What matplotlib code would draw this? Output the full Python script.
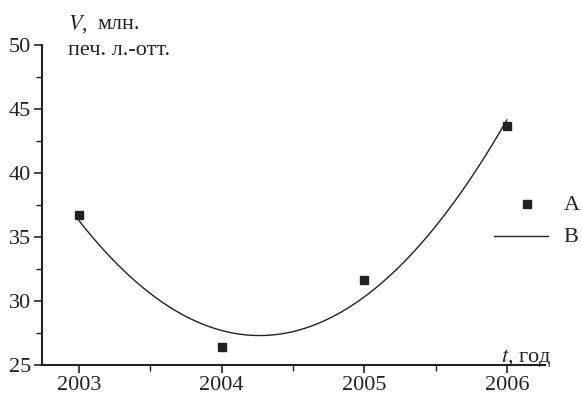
import numpy as np
import matplotlib.pyplot as plt
from matplotlib.ticker import MultipleLocator

plt.rcParams['font.family'] = ['Liberation Serif', 'DejaVu Serif']
plt.rcParams['mathtext.fontset'] = 'stix'

years = [2003, 2004, 2005, 2006]
volume = [36.7, 26.4, 31.6, 43.7]
year_ticks = [2003, 2004, 2005, 2006]
v_ticks = [25, 30, 35, 40, 45, 50]

# квадратичная аппроксимация (кривая B)
coef = np.polyfit(np.array(years) - 2003, volume, 2)
t_fit = np.linspace(2003, 2006, 200)
v_fit = np.polyval(coef, t_fit - 2003)

fig = plt.figure(figsize=(5.82, 4.01), dpi=100)
ax = fig.add_axes([0.072, 0.09, 0.865, 0.798])

ax.plot(t_fit, v_fit, color='#222222', linewidth=1.0)
ax.plot(years, volume, 's', color='#222222', markersize=6)

ax.set_xlim(2002.74, 2006.27)
ax.set_ylim(25, 50)
ax.set_xticks(year_ticks)
ax.set_yticks(v_ticks)
ax.xaxis.set_minor_locator(MultipleLocator(0.5))
ax.yaxis.set_minor_locator(MultipleLocator(2.5))
ax.tick_params(which='major', direction='out', length=6, width=1.2,
               labelsize=16, colors='#222222', pad=2)
ax.tick_params(which='minor', direction='out', length=4, width=1.0, colors='#222222')

for side in ['top', 'right']:
    ax.spines[side].set_visible(False)
for side in ['left', 'bottom']:
    ax.spines[side].set_linewidth(1.5)
    ax.spines[side].set_color('#222222')

fs = 16
fig.text(0.117, 0.94, '$V$,', fontsize=fs, color='#222222', va='center')
fig.text(0.168, 0.94, 'млн.', fontsize=fs, color='#222222', va='center')
fig.text(0.117, 0.875, 'печ. л.-отт.', fontsize=fs, color='#222222', va='center')
fig.text(0.86, 0.106, '$t$, год', fontsize=fs, color='#222222', va='center')

# легенда
fig.lines.append(plt.Line2D([0.905], [0.492], marker='s', color='#222222',
                            markersize=6, linestyle='none', transform=fig.transFigure))
fig.lines.append(plt.Line2D([0.848, 0.942], [0.412, 0.412], color='#222222',
                            linewidth=1.0, transform=fig.transFigure))
fig.text(0.968, 0.487, 'A', fontsize=fs, color='#222222', va='center')
fig.text(0.968, 0.407, 'B', fontsize=fs, color='#222222', va='center')

fig.savefig('out.png', dpi=100)
